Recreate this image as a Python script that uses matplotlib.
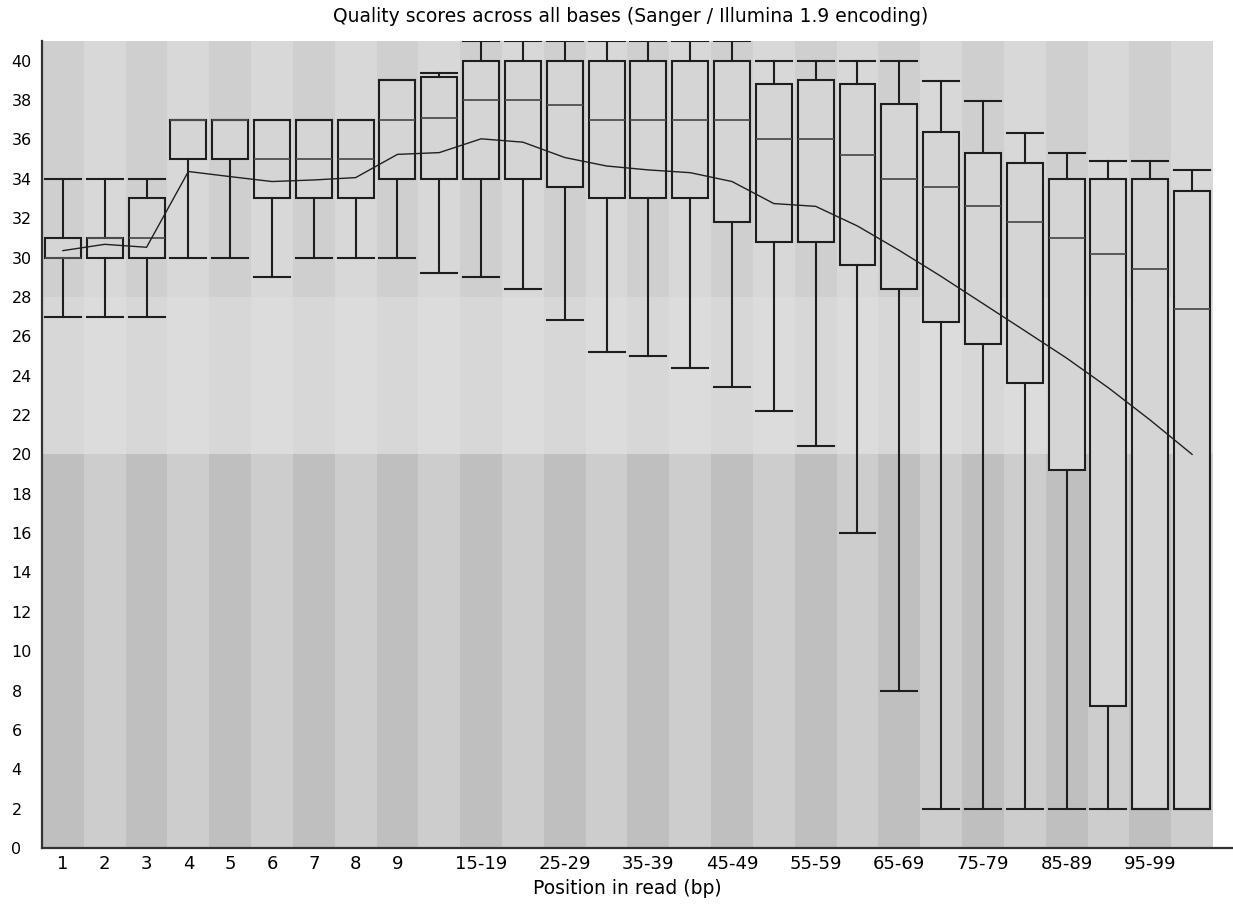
import numpy as np
import matplotlib
matplotlib.use("Agg")
import matplotlib.pyplot as plt

# per-position quality stats
groups = ["1", "2", "3", "4", "5", "6", "7", "8", "9",
          "10-14", "15-19", "20-24", "25-29", "30-34", "35-39", "40-44",
          "45-49", "50-54", "55-59", "60-64", "65-69", "70-74", "75-79",
          "80-84", "85-89", "90-94", "95-99", "100-101"]
whis_lo = [27, 27, 27, 30, 30, 29, 30, 30, 30, 29.2, 29, 28.4, 26.8, 25.2,
           25, 24.4, 23.4, 22.2, 20.4, 16, 8, 2, 2, 2, 2, 2, 2, 2]
q1 = [30, 30, 30, 35, 35, 33, 33, 33, 34, 34, 34, 34, 33.6, 33, 33, 33,
      31.8, 30.8, 30.8, 29.6, 28.4, 26.7, 25.6, 23.6, 19.2, 7.2, 2, 2]
median = [30, 31, 31, 37, 37, 35, 35, 35, 37, 37.1, 38, 38, 37.75, 37, 37,
          37, 37, 36, 36, 35.2, 34, 33.6, 32.6, 31.8, 31, 30.2, 29.4, 27.4]
q3 = [31, 31, 33, 37, 37, 37, 37, 37, 39, 39.15, 40, 40, 40, 40, 40, 40,
      40, 38.8, 39, 38.8, 37.8, 36.4, 35.3, 34.8, 34, 34, 34, 33.4]
whis_hi = [34, 34, 34, 37, 37, 37, 37, 37, 39, 39.35, 41, 41, 41, 41, 41,
           41, 41, 40, 40, 40, 40, 38.95, 37.95, 36.35, 35.3, 34.9, 34.9, 34.45]
mean = [30.35, 30.67, 30.52, 34.37, 34.11, 33.86, 33.94, 34.06, 35.24,
        35.33, 36.03, 35.86, 35.08, 34.65, 34.45, 34.31, 33.86, 32.74,
        32.6, 31.6, 30.36, 29.04, 27.66, 26.28, 24.89, 23.38, 21.74, 20.0]

# FastQC shows only every other group label once grouping starts
tick_labels = [g if (i < 9 or i % 2 == 0) and i < 27 else ""
               for i, g in enumerate(groups)]

n = len(groups)
pos = np.arange(1, n + 1)

fig = plt.figure(figsize=(12.33, 9.07), dpi=100)
ax = fig.add_axes([42 / 1233, 59 / 907, 1191 / 1233, 807 / 907])

# background bands: bad < 20, ok 20-28, good > 28 (greyscale)
zones = [(0, 20, "#bfbfbf", "#cdcdcd"),
         (20, 28, "#d7d7d7", "#dcdcdc"),
         (28, 41, "#cfcfcf", "#d8d8d8")]
for i in range(n):
    for lo, hi, dark, light in zones:
        ax.fill_between([i + 0.5, i + 1.5], lo, hi,
                        color=dark if i % 2 == 0 else light, lw=0, zorder=0)

stats = []
for i in range(n):
    stats.append(dict(med=median[i], q1=q1[i], q3=q3[i],
                      whislo=whis_lo[i], whishi=whis_hi[i], fliers=[]))

ax.bxp(stats, positions=pos, widths=0.86, capwidths=0.86, patch_artist=True,
       showfliers=False, manage_ticks=False,
       boxprops=dict(facecolor="#d5d5d5", edgecolor="#1e1e1e", lw=1.5),
       medianprops=dict(color="#505050", lw=1.3),
       whiskerprops=dict(color="#1e1e1e", lw=1.5),
       capprops=dict(color="#1e1e1e", lw=1.5), zorder=2)

ax.plot(pos, mean, color="#202020", lw=1, zorder=3)

ax.set_xlim(0.5, 0.5 + 1191 / 41.82)
ax.set_ylim(0, 41)
ax.set_yticks(np.arange(0, 41, 2))
ax.set_yticklabels([str(v) for v in range(0, 41, 2)], ha="left")
ax.set_xticks(pos)
ax.set_xticklabels(tick_labels)
ax.tick_params(axis="y", length=0, pad=22, labelsize=11.5)
ax.tick_params(axis="x", length=0, pad=5, labelsize=13)

for s in ["top", "right"]:
    ax.spines[s].set_visible(False)
for s in ["left", "bottom"]:
    ax.spines[s].set_linewidth(1.6)
    ax.spines[s].set_color("#333333")

fig.text(631 / 1233, 1 - 17 / 907,
         "Quality scores across all bases (Sanger / Illumina 1.9 encoding)",
         ha="center", va="center", fontsize=13.5)
fig.text(627 / 1233, 1 - 889 / 907, "Position in read (bp)",
         ha="center", va="center", fontsize=13.5)

fig.savefig("out.png", dpi=100)
